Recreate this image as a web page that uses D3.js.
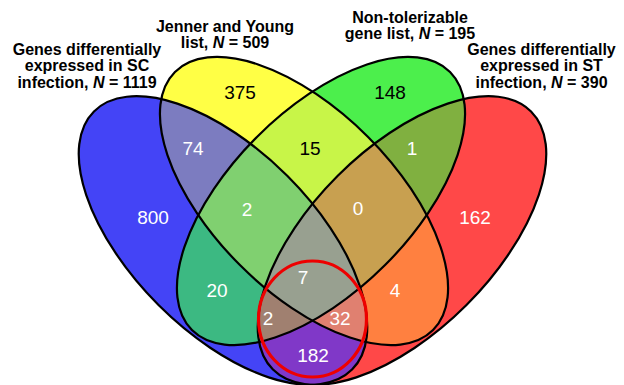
<!DOCTYPE html>
<html>
<head>
<meta charset="utf-8">
<script src="https://cdn.jsdelivr.net/npm/d3@7"></script>
<style>
  body { margin: 0; background: #fff; }
  svg { display: block; }
  text { font-family: "Liberation Sans", Arial, Helvetica, sans-serif; }
</style>
</head>
<body>
<svg id="chart" width="624" height="385"></svg>
<script>
// ---- data ---------------------------------------------------------------
const setKeys   = ["A", "B", "C", "D"];
const setNames  = ["Genes differentially expressed in SC infection",
                   "Jenner and Young list",
                   "Non-tolerizable gene list",
                   "Genes differentially expressed in ST infection"];
const setSizes  = [1119, 509, 195, 390];

// exclusive region counts, keyed by the sets each region belongs to
const regionKeys   = ["A", "B", "C", "D",
                      "AB", "AC", "AD", "BC", "BD", "CD",
                      "ABC", "ABD", "ACD", "BCD", "ABCD"];
const regionCounts = [800, 375, 148, 162,
                      74, 20, 182, 15, 4, 1,
                      2, 32, 2, 0, 7];

// ---- styles -------------------------------------------------------------
const regionFills = ["#4444f6", "#ffff45", "#4cef4c", "#ff4848",
                     "#7c7cc0", "#3cb982", "#8038c8", "#c8f548", "#ff8040", "#80b040",
                     "#80d070", "#e08070", "#a08070", "#c8a050", "#98a090"];
const darkLabels = ["B", "C", "BC"];

// ---- layout (venn units, y grows downward) ------------------------------
const ellipses = [
  { cx: -0.895, cy: 0.255, a: 1.825, b: 0.912, rot: 45 },
  { cx: -0.085, cy: -0.14, a: 1.825, b: 0.906, rot: 45 },
  { cx:  0.085, cy: -0.14, a: 1.825, b: 0.906, rot: -45 },
  { cx:  0.895, cy: 0.255, a: 1.825, b: 0.912, rot: -45 }
];
const labelAnchors = {
  A: [-1.595, 0.02], B: [-0.725, -1.23], C: [0.775, -1.23], D: [1.625, 0.02],
  AB: [-1.195, -0.67], AC: [-0.955, 0.75], AD: [0.005, 1.40], BC: [-0.025, -0.67],
  BD: [0.825, 0.75], CD: [0.995, -0.67], ABC: [-0.655, -0.06], ABD: [0.275, 1.03],
  ACD: [-0.445, 1.03], BCD: [0.455, -0.07], ABCD: [-0.095, 0.62]
};
const highlight = { cx: 0.0, cy: 1.04, rx: 0.54, ry: 0.58 };

const W = 624, H = 385;
const x = d3.scaleLinear().domain([-1, 1]).range([212.5, 412.5]);
const y = d3.scaleLinear().domain([-1, 1]).range([115, 315]);
const k = x(1) - x(0);

const svg = d3.select("#chart");
const defs = svg.append("defs");

// one clip path per set
ellipses.forEach((e, i) => {
  defs.append("clipPath").attr("id", "clip-" + setKeys[i])
    .append("ellipse")
    .attr("cx", x(e.cx)).attr("cy", y(e.cy))
    .attr("rx", e.a * k).attr("ry", e.b * k)
    .attr("transform", `rotate(${e.rot},${x(e.cx)},${y(e.cy)})`);
});

// paint regions from single sets up to the four-way overlap;
// each later layer covers exactly its own intersection
const order = d3.range(regionKeys.length)
  .sort((p, q) => regionKeys[p].length - regionKeys[q].length);
const fillLayer = svg.append("g");
order.forEach(idx => {
  let g = fillLayer;
  for (const s of regionKeys[idx]) {
    g = g.append("g").attr("clip-path", `url(#clip-${s})`);
  }
  g.append("rect").attr("x", 0).attr("y", 0).attr("width", W).attr("height", H)
    .attr("fill", regionFills[idx]);
});

// outlines
svg.append("g").selectAll("ellipse").data(ellipses).join("ellipse")
  .attr("cx", d => x(d.cx)).attr("cy", d => y(d.cy))
  .attr("rx", d => d.a * k).attr("ry", d => d.b * k)
  .attr("transform", d => `rotate(${d.rot},${x(d.cx)},${y(d.cy)})`)
  .attr("fill", "none").attr("stroke", "#000").attr("stroke-width", 2.2);

// highlight ring around the SC ∩ ST core
svg.append("ellipse")
  .attr("cx", x(highlight.cx)).attr("cy", y(highlight.cy))
  .attr("rx", highlight.rx * k).attr("ry", highlight.ry * k)
  .attr("fill", "none").attr("stroke", "#ee0000").attr("stroke-width", 3.2);

// region counts
svg.append("g").selectAll("text").data(regionKeys).join("text")
  .attr("x", d => x(labelAnchors[d][0]))
  .attr("y", d => y(labelAnchors[d][1]))
  .attr("dy", "0.35em")
  .attr("text-anchor", "middle")
  .attr("font-size", 19)
  .attr("fill", d => darkLabels.includes(d) ? "#000" : "#fff")
  .text((d, i) => regionCounts[i]);

// set titles
const titleLines = [
  { lines: ["Genes differentially", "expressed in SC", "infection, "], pos: [-2.255, -1.60], n: 0 },
  { lines: ["Jenner and Young", "list, "], pos: [-0.875, -1.83], n: 1 },
  { lines: ["Non-tolerizable", "gene list, "], pos: [0.975, -1.92], n: 2 },
  { lines: ["Genes differentially", "expressed in ST", "infection, "], pos: [2.29, -1.60], n: 3 }
];
const tg = svg.append("g").attr("font-weight", "bold").attr("font-size", 16).attr("fill", "#000");
titleLines.forEach(t => {
  const txt = tg.append("text").attr("text-anchor", "middle")
    .attr("x", x(t.pos[0])).attr("y", y(t.pos[1]));
  t.lines.forEach((ln, j) => {
    const sp = txt.append("tspan").attr("x", x(t.pos[0])).attr("dy", j === 0 ? 0 : 16.3);
    if (j === t.lines.length - 1) {
      sp.append("tspan").text(ln);
      sp.append("tspan").attr("font-style", "italic").text("N");
      sp.append("tspan").text(" = " + setSizes[t.n]);
    } else {
      sp.text(ln);
    }
  });
});
</script>
</body>
</html>
